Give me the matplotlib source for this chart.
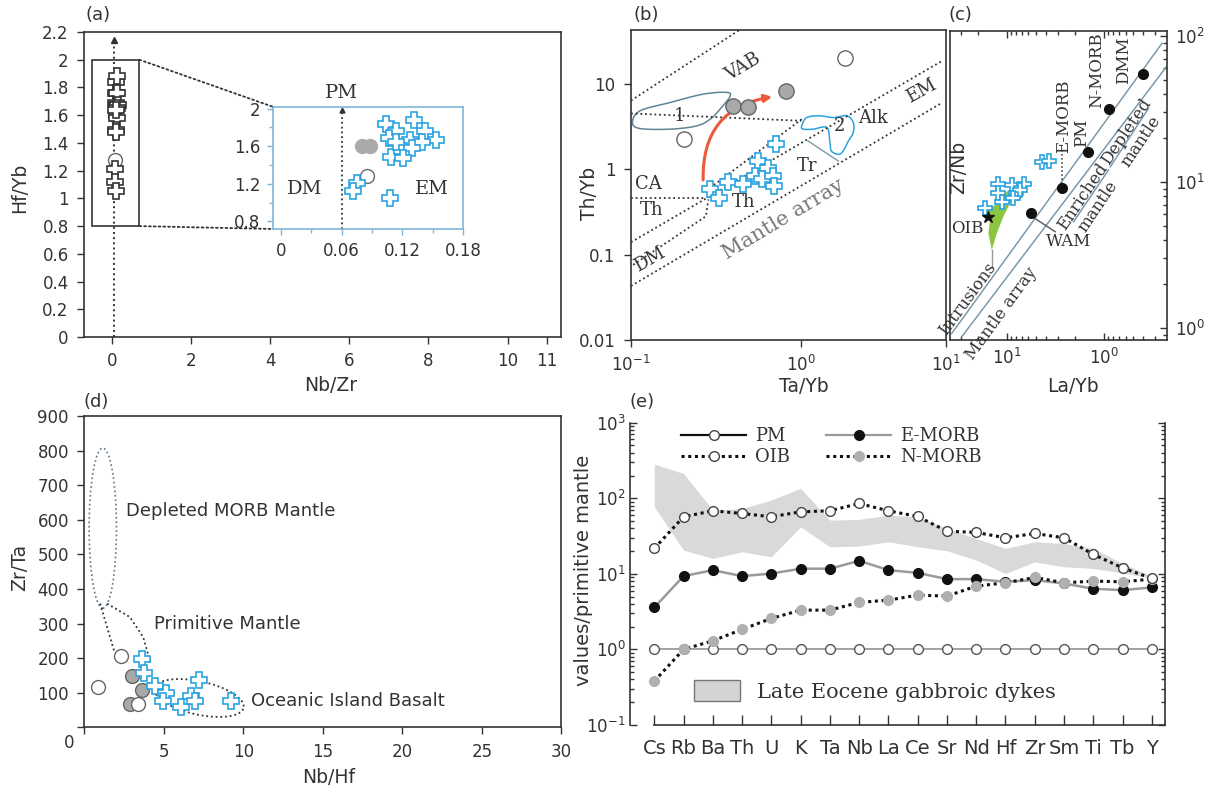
import matplotlib
matplotlib.use('Agg')
import matplotlib.pyplot as plt
from matplotlib.patches import Ellipse, Polygon, Patch, Rectangle, ConnectionPatch, FancyArrowPatch
from matplotlib.lines import Line2D
from matplotlib.ticker import FixedLocator, FixedFormatter, NullLocator, LogLocator
import numpy as np

plt.rcParams['font.family'] = ['DejaVu Sans']
plt.rcParams['mathtext.default'] = 'regular'

DARK = '#333333'
BLUE = '#2aa3e0'
SERIF = 'DejaVu Serif'
W, H = 1211, 792

# ---- (a) Hf/Yb vs Nb/Zr (also used for the inset) ----
a_cross_x = [0.104, 0.131, 0.114, 0.107, 0.127, 0.142, 0.153, 0.139, 0.129, 0.109, 0.121, 0.114, 0.075, 0.071, 0.108]
a_cross_y = [1.84, 1.88, 1.76, 1.69, 1.67, 1.76, 1.67, 1.65, 1.58, 1.49, 1.48, 1.64, 1.21, 1.12, 1.05]
a_grey_x = [0.080, 0.088]
a_grey_y = [1.60, 1.60]
a_open_x = [0.085]
a_open_y = [1.28]

# ---- (b) Th/Yb vs Ta/Yb ----
b_cross_x = [0.292, 0.329, 0.374, 0.454, 0.561, 0.536, 0.643, 0.588, 0.681, 0.693, 0.713]
b_cross_y = [0.582, 0.456, 0.710, 0.667, 1.25, 0.835, 1.05, 0.776, 0.835, 0.637, 1.97]
b_grey_x = [0.400, 0.485, 0.813]
b_grey_y = [5.56, 5.41, 8.36]
b_open_x = [0.205, 1.82]
b_open_y = [2.30, 20.0]
b_arrow_x = [0.266, 0.703]
b_arrow_y = [0.697, 7.16]
b_field1_x = [0.102, 0.113, 0.170, 0.266, 0.365, 0.382, 0.334, 0.292, 0.243, 0.170, 0.113]
b_field1_y = [3.54, 4.85, 6.08, 7.62, 7.98, 7.16, 5.08, 3.87, 3.23, 2.96, 3.01]
b_field2_x = [1.01, 1.08, 1.29, 1.55, 1.86, 2.03, 2.03, 1.90, 1.77, 1.66, 1.51, 1.48, 1.42, 1.18, 1.03]
b_field2_y = [3.23, 4.05, 4.24, 4.05, 4.24, 3.54, 2.70, 2.15, 1.64, 1.50, 1.64, 2.06, 3.09, 2.96, 2.96]

# ---- (c) Zr/Nb vs La/Yb ----
c_ref_names = ['DMM', 'N-MORB', 'PM', 'E-MORB', 'WAM']
c_ref_x = [0.401, 0.883, 1.47, 2.68, 5.63]
c_ref_y = [54.7, 31.6, 16.0, 9.06, 6.11]
c_cross_x = [4.37, 3.67, 12.4, 8.91, 6.60, 8.04, 12.4, 11.1, 16.8, 7.31, 8.57]
c_cross_y = [13.8, 14.0, 9.69, 9.53, 9.64, 8.36, 8.45, 7.33, 6.60, 8.81, 7.73]
c_oib_x = [15.7]
c_oib_y = [5.78]
c_intr_x = [16.8, 14.9, 15.5, 14.3, 12.7, 10.9, 8.91, 9.66, 11.3, 13.2, 16.1]
c_intr_y = [6.26, 5.49, 4.45, 3.42, 4.45, 5.78, 7.53, 8.81, 7.93, 6.96, 6.43]

# ---- (d) Zr/Ta vs Nb/Hf ----
d_cross_x = [3.64, 3.73, 4.43, 5.14, 4.98, 6.10, 6.70, 6.94, 7.22, 9.21]
d_cross_y = [199, 158, 121, 100, 75, 60, 90, 75, 136, 75]
d_grey_x = [2.99, 3.64, 2.87]
d_grey_y = [148, 107, 68]
d_open_x = [2.34, 0.84, 3.40]
d_open_y = [207, 117, 68]

# ---- (e) spider diagram ----
elements = ['Cs', 'Rb', 'Ba', 'Th', 'U', 'K', 'Ta', 'Nb', 'La', 'Ce', 'Sr', 'Nd', 'Hf', 'Zr', 'Sm', 'Ti', 'Tb', 'Y']
pm = [1.0, 1.0, 1.0, 1.0, 1.0, 1.0, 1.0, 1.0, 1.0, 1.0, 1.0, 1.0, 1.0, 1.0, 1.0, 1.0, 1.0, 1.0]
oib = [21.7, 56.9, 68.3, 62.9, 56.9, 66.2, 68.3, 85.3, 68.3, 57.4, 36.7, 35.3, 30.0, 34.2, 30.0, 18.1, 12.0, 8.69]
emorb = [3.59, 9.33, 11.2, 9.33, 10.1, 11.7, 11.7, 14.9, 11.2, 10.3, 8.52, 8.52, 7.85, 8.26, 7.46, 6.35, 6.09, 6.61]
nmorb = [0.381, 1.0, 1.30, 1.84, 2.57, 3.31, 3.31, 4.19, 4.49, 5.23, 5.08, 6.88, 7.62, 8.96, 7.62, 8.01, 7.85, 8.52]
band_hi = [283, 213, 69.7, 73.0, 95.0, 135, 51.4, 52.5, 59.8, 56.9, 39.9, 29.4, 21.7, 26.6, 25.2, 21.7, 13.7, 9.33]
band_lo = [77.1, 20.6, 16.0, 19.6, 16.8, 41.9, 22.8, 23.3, 26.6, 22.8, 20.2, 15.2, 10.1, 14.4, 12.4, 11.8, 10.3, 8.69]


def box(l, t, r, b):
    return [l / W, 1 - b / H, (r - l) / W, (b - t) / H]


def style(ax, size=12, direction='out'):
    for s in ax.spines.values():
        s.set_color(DARK)
        s.set_linewidth(1.2)
    ax.tick_params(which='both', colors=DARK, labelsize=size, direction=direction, width=1)
    ax.tick_params(which='major', length=5, pad=6)
    ax.tick_params(which='minor', length=3)


def cross(ax, x, y, ec=BLUE, ms=11):
    ax.plot(x, y, 'P', ms=ms, mfc='white', mec=ec, mew=1.2, ls='none', zorder=5)


def circles(ax, x, y, face, ms=10):
    ax.plot(x, y, 'o', ms=ms, mfc=face, mec='#666666', mew=1, ls='none', zorder=4)


# smooth closed outline through the traced points (log-log space)
def smooth_loop(xs, ys, n=12):
    lx, ly = np.log10(xs), np.log10(ys)
    k = len(lx)
    out_x, out_y = [], []
    for i in range(k):
        p0, p1, p2, p3 = [(lx[(i + j) % k], ly[(i + j) % k]) for j in (-1, 0, 1, 2)]
        for t in np.linspace(0, 1, n, endpoint=False):
            t2, t3 = t * t, t * t * t
            for c, out in ((0, out_x), (1, out_y)):
                out.append(0.5 * (2 * p1[c] + (-p0[c] + p2[c]) * t + (2 * p0[c] - 5 * p1[c] + 4 * p2[c] - p3[c]) * t2
                                  + (-p0[c] + 3 * p1[c] - 3 * p2[c] + p3[c]) * t3))
    return list(zip(10 ** np.array(out_x), 10 ** np.array(out_y)))


fig = plt.figure(figsize=(W / 100, H / 100), dpi=100)

# panel (a)
ax_a = fig.add_axes(box(84, 32, 561, 337))
style(ax_a)
ax_a.set_xlim(-0.7, 11.35)
ax_a.set_ylim(0, 2.2)
ax_a.set_xticks([0, 2, 4, 6, 8, 10, 11])
yt = [0, 0.2, 0.4, 0.6, 0.8, 1, 1.2, 1.4, 1.6, 1.8, 2, 2.2]
ax_a.set_yticks(yt)
ax_a.set_yticklabels(['%g' % v for v in yt])
ax_a.add_patch(Rectangle((-0.49, 0.8), 1.19, 1.2, fill=False, ec=DARK, lw=1.2))
ax_a.plot([0.06, 0.06], [0, 2.13], ls=':', color=DARK, lw=1.4)
ax_a.plot([0.06], [2.14], '^', ms=4, color=DARK)
cross(ax_a, a_cross_x, a_cross_y, ec=DARK)
circles(ax_a, a_grey_x, a_grey_y, '#aaaaaa')
circles(ax_a, a_open_x, a_open_y, 'white')
ax_a.set_xlabel('Nb/Zr', fontsize=13.5, color=DARK)
ax_a.xaxis.set_label_coords(0.518, -0.128)
ax_a.set_ylabel('Hf/Yb', fontsize=13.5, color=DARK)
ax_a.yaxis.set_label_coords(-0.115, 0.49)

# inset of (a)
ax_in = fig.add_axes(box(272.7, 106.7, 463.3, 229))
INB = '#7fb6d8'
for s in ax_in.spines.values():
    s.set_color(INB)
    s.set_linewidth(1.2)
ax_in.tick_params(which='both', colors=INB, labelcolor=DARK, labelsize=12, direction='out', width=1)
ax_in.tick_params(which='major', length=4, pad=5)
ax_in.tick_params(which='minor', length=3)
ax_in.set_xlim(-0.008, 0.18)
ax_in.set_ylim(0.72, 2.02)
ax_in.set_xticks([0, 0.06, 0.12, 0.18])
ax_in.set_xticklabels(['0', '0.06', '0.12', '0.18'])
ax_in.set_xticks([0.03, 0.09, 0.15], minor=True)
ax_in.set_yticks([0.8, 1.2, 1.6, 2.0])
ax_in.set_yticklabels(['0.8', '1.2', '1.6', '2'])
ax_in.set_yticks([1.0, 1.4, 1.8], minor=True)
ax_in.plot([0.06, 0.06], [0.72, 1.98], ls=':', color=DARK, lw=1.3)
ax_in.plot([0.06], [1.99], '^', ms=3.5, color=DARK)
cross(ax_in, a_cross_x, a_cross_y)
ax_in.plot(a_grey_x, a_grey_y, 'o', ms=10, mfc='#aaaaaa', mec='#aaaaaa', ls='none', zorder=4)
circles(ax_in, a_open_x, a_open_y, 'white')
ax_in.text(0.06, 2.17, 'PM', ha='center', va='center', fontsize=14, family=SERIF, color=DARK, clip_on=False)
ax_in.text(0.024, 1.14, 'DM', ha='center', va='center', fontsize=14, family=SERIF, color=DARK)
ax_in.text(0.149, 1.14, 'EM', ha='center', va='center', fontsize=14, family=SERIF, color=DARK)
for ya, yb in [(2.0, 1), (0.8, 0)]:
    con = ConnectionPatch(xyA=(0.70, ya), coordsA=ax_a.transData, xyB=(0, yb), coordsB=ax_in.transAxes,
                          ls=':', color=DARK, lw=1.3)
    fig.add_artist(con)

# panel (b)
ax_b = fig.add_axes(box(631, 30, 945.6, 340))
style(ax_b)
ax_b.set_xscale('log')
ax_b.set_yscale('log')
ax_b.set_xlim(0.1, 7.09)
ax_b.set_ylim(0.01, 43)
ax_b.xaxis.set_major_locator(FixedLocator([0.1, 1, 7.09]))
ax_b.xaxis.set_major_formatter(FixedFormatter(['$10^{-1}$', '$10^{0}$', '$10^{1}$']))
ax_b.xaxis.set_minor_locator(NullLocator())
ax_b.yaxis.set_major_locator(FixedLocator([0.01, 0.1, 1, 10]))
ax_b.yaxis.set_major_formatter(FixedFormatter(['0.01', '0.1', '1', '10']))
ax_b.yaxis.set_minor_locator(NullLocator())
dot = dict(ls=(0, (1, 1.6)), color=DARK, lw=1.3)
ax_b.plot([0.1, 0.45], [6.4, 45], **dot)
ax_b.plot([0.1, 6.8], [0.14, 18.8], **dot)
ax_b.plot([0.1, 6.8], [0.043, 6.08], **dot)
ax_b.plot([0.103, 0.276, 0.285], [0.076, 0.282, 0.444], **dot)
ax_b.plot([0.292, 1.01], [0.608, 3.87], **dot)
ax_b.plot([0.1, 0.276], [0.456, 0.456], **dot)
ax_b.plot([0.1, 1.0], [4.52, 3.71], **dot)
ax_b.plot([1.10, 1.66], [2.15, 1.25], color='#7a9aaa', lw=1)
ax_b.add_patch(Polygon(smooth_loop(b_field1_x, b_field1_y), closed=True, fill=False, ec='#5f8595', lw=1.1))
ax_b.add_patch(Polygon(smooth_loop(b_field2_x, b_field2_y), closed=True, fill=False, ec=BLUE, lw=1.1))
arrow = FancyArrowPatch((b_arrow_x[0], b_arrow_y[0]), (b_arrow_x[1], b_arrow_y[1]),
                        connectionstyle='arc3,rad=-0.45', arrowstyle='-|>', mutation_scale=11,
                        color='#ec5a3c', lw=2.2, zorder=3)
ax_b.add_patch(arrow)
cross(ax_b, b_cross_x, b_cross_y)
circles(ax_b, b_grey_x, b_grey_y, '#a9a9a9', ms=11)
circles(ax_b, b_open_x, b_open_y, 'white', ms=11)
tk = dict(family=SERIF, color=DARK, ha='center', va='center', fontsize=13)
ax_b.text(0.458, 15.7, 'VAB', rotation=31, **tk)
ax_b.text(0.192, 4.17, '1', **tk)
ax_b.text(1.69, 3.23, '2', **tk)
ax_b.text(2.66, 4.05, 'Alk', **tk)
ax_b.text(5.13, 8.36, 'EM', rotation=29, **tk)
ax_b.text(1.08, 1.09, 'Tr', **tk)
ax_b.text(0.126, 0.667, 'CA', **tk)
ax_b.text(0.132, 0.333, 'Th', **tk)
ax_b.text(0.458, 0.413, 'Th', **tk)
ax_b.text(0.129, 0.089, 'DM', rotation=30, **tk)
ax_b.text(0.787, 0.258, 'Mantle array', rotation=31, family=SERIF, color='#777777', ha='center', va='center', fontsize=15)
ax_b.set_xlabel('Ta/Yb', fontsize=13.5, color=DARK)
ax_b.xaxis.set_label_coords(0.548, -0.12)
ax_b.set_ylabel('Th/Yb', fontsize=13.5, color=DARK)
ax_b.yaxis.set_label_coords(-0.102, 0.474)

# panel (c)
ax_c = fig.add_axes(box(950, 31, 1167, 340))
style(ax_c, direction='in')
ax_c.set_xscale('log')
ax_c.set_yscale('log')
ax_c.set_xlim(38.5, 0.225)
ax_c.set_ylim(0.83, 108)
ax_c.yaxis.tick_right()
ax_c.tick_params(which='both', top=True, bottom=True, right=True, left=False, labelright=True, labelleft=False)
ax_c.xaxis.set_major_locator(FixedLocator([10, 1]))
ax_c.yaxis.set_major_locator(FixedLocator([1, 10, 100]))
ax_c.xaxis.set_minor_locator(LogLocator(subs=np.arange(2, 10)))
ax_c.yaxis.set_minor_locator(LogLocator(subs=np.arange(2, 10)))
LC = '#7a9aaa'
ax_c.plot([37.0, 0.253], [0.919, 89.1], color=LC, lw=1.1)
ax_c.plot([29.2, 0.208], [0.872, 66.7], color=LC, lw=1.1)
ax_c.plot([2.06, 0.899], [5.35, 12.1], color=LC, lw=1.1)
ax_c.plot([0.863, 0.348], [12.7, 32.0], color=LC, lw=1.1)
ax_c.plot([2.68, 2.68], [9.06, 17.0], ls=':', color=DARK, lw=1.1)
ax_c.plot([5.46, 3.18], [5.78, 4.57], color='#555555', lw=1)
ax_c.plot([14.3, 14.3], [3.42, 2.63], color='#999999', lw=1)
ax_c.add_patch(Polygon(list(zip(c_intr_x, c_intr_y)), closed=True, fc='#8cc63f', ec='none', zorder=2))
ax_c.plot(c_ref_x, c_ref_y, 'o', ms=7, color='#111111', ls='none', zorder=4)
cross(ax_c, c_cross_x, c_cross_y, ms=10)
ax_c.plot(c_oib_x, c_oib_y, '*', ms=9, color='#111111', ls='none', zorder=6)
tc = dict(family=SERIF, color=DARK, fontsize=12)
ax_c.text(0.63, 68.5, 'DMM', rotation=90, ha='center', va='center', **tc)
ax_c.text(1.18, 58.5, 'N-MORB', rotation=90, ha='center', va='center', **tc)
ax_c.text(2.61, 28.0, 'E-MORB', rotation=90, ha='center', va='center', **tc)
ax_c.text(1.69, 21.6, 'PM', rotation=90, ha='center', va='center', **tc)
ax_c.text(1.39, 7.33, 'Enriched\nmantle', rotation=56, ha='center', va='center', linespacing=1.1, **tc)
ax_c.text(0.497, 20.4, 'Depleted\nmantle', rotation=56, ha='center', va='center', linespacing=1.1, **tc)
ax_c.text(2.29, 3.90, 'WAM', ha='center', va='center', **tc)
ax_c.text(25.3, 4.82, 'OIB', ha='center', va='center', **tc)
ax_c.text(25.5, 1.58, 'Intrusions', rotation=54, ha='center', va='center', **tc)
ax_c.text(11.3, 1.26, 'Mantle array', rotation=54, ha='center', va='center', **tc)
ax_c.text(0.038, 0.56, 'Zr/Nb', rotation=90, transform=ax_c.transAxes, ha='center', va='center',
          fontsize=13.5, color=DARK)
ax_c.set_xlabel('La/Yb', fontsize=13.5, color=DARK)
ax_c.xaxis.set_label_coords(0.568, -0.12)

# panel (d)
ax_d = fig.add_axes(box(84.2, 416.1, 561.4, 727.4))
style(ax_d)
ax_d.set_xlim(0, 30)
ax_d.set_ylim(0, 900)
ax_d.set_xticks([0, 5, 10, 15, 20, 25, 30])
ax_d.set_xticklabels(['', '5', '10', '15', '20', '25', '30'])
ax_d.set_yticks([0, 100, 200, 300, 400, 500, 600, 700, 800, 900])
ax_d.set_yticklabels(['', '100', '200', '300', '400', '500', '600', '700', '800', '900'])
ax_d.text(-0.032, -0.051, '0', transform=ax_d.transAxes, ha='center', va='center', fontsize=12, color=DARK)
ax_d.add_patch(Ellipse((1.17, 576), 1.72, 463, fill=False, ls=':', ec='#5f7585', lw=1.2))
ax_d.plot([1.00, 1.91], [358, 217], ls=(0, (1, 1.6)), color=DARK, lw=1.3)
ax_d.plot([1.44, 2.87, 3.71, 4.19], [358, 319, 261, 183], ls=(0, (1, 1.6)), color=DARK, lw=1.3)
t = np.linspace(0, 2 * np.pi, 100)
ex = 7.22 + 2.81 * np.cos(t)
ey = 85 + 49 * np.sin(t) - 8.7 * (ex - 7.22)
ax_d.plot(ex, ey, ls=(0, (1, 1.6)), color=DARK, lw=1.3)
circles(ax_d, d_grey_x, d_grey_y, '#a9a9a9', ms=10)
circles(ax_d, d_open_x, d_open_y, 'white', ms=10)
cross(ax_d, d_cross_x, d_cross_y)
td = dict(color=DARK, fontsize=13, ha='left', va='center')
ax_d.text(2.6, 627, 'Depleted MORB Mantle', **td)
ax_d.text(4.4, 300, 'Primitive Mantle', **td)
ax_d.text(10.5, 77, 'Oceanic Island Basalt', **td)
ax_d.set_xlabel('Nb/Hf', fontsize=13.5, color=DARK)
ax_d.xaxis.set_label_coords(0.513, -0.13)
ax_d.set_ylabel('Zr/Ta', fontsize=13.5, color=DARK)
ax_d.yaxis.set_label_coords(-0.116, 0.513)

# panel (e)
ax_e = fig.add_axes(box(630, 422.7, 1165, 725))
style(ax_e, size=14, direction='in')
ax_e.set_yscale('log')
ax_e.set_xlim(-0.83, 17.45)
ax_e.set_ylim(0.1, 1000)
ax_e.spines['top'].set_visible(False)
ax_e.spines['bottom'].set_bounds(0, 17.45)
ax_e.tick_params(which='both', left=True, right=True, bottom=True, top=False)
ax_e.tick_params(axis='x', length=7, pad=10)
ax_e.tick_params(axis='y', labelsize=12, pad=3)
ax_e.set_xticks(range(len(elements)))
ax_e.set_xticklabels(elements)
ax_e.yaxis.set_major_locator(FixedLocator([0.1, 1, 10, 100, 1000]))
ax_e.yaxis.set_minor_locator(LogLocator(subs=np.arange(2, 10)))
xs = np.arange(len(elements))
ax_e.fill_between(xs, band_lo, band_hi, color='#d9d9d9', lw=0, zorder=1)
ax_e.plot(xs, pm, '-o', color='#9a9a9a', lw=1.3, ms=7, mfc='white', mec='#555555', zorder=3)
ax_e.plot(xs, emorb, '-o', color='#9a9a9a', lw=1.8, ms=7, mfc='#111111', mec='#111111', zorder=3)
ax_e.plot(xs, nmorb, 'o', ls=(0, (1, 1.2)), color='#111111', lw=2.2, ms=7, mfc='#b0b0b0', mec='#b0b0b0', zorder=4)
ax_e.plot(xs, oib, 'o', ls=(0, (1, 1.2)), color='#111111', lw=2.2, ms=7, mfc='white', mec='#444444', zorder=4)
handles = [
    Line2D([], [], color='#111111', lw=1.6, marker='o', ms=7, mfc='white', mec='#444444'),
    Line2D([], [], color='#111111', lw=2.2, ls=(0, (1, 1.2)), marker='o', ms=7, mfc='white', mec='#444444'),
    Line2D([], [], color='#9a9a9a', lw=1.6, marker='o', ms=7, mfc='#111111', mec='#111111'),
    Line2D([], [], color='#111111', lw=2.2, ls=(0, (1, 1.2)), marker='o', ms=7, mfc='#b0b0b0', mec='#b0b0b0'),
]
leg = ax_e.legend(handles, ['PM', 'OIB', 'E-MORB', 'N-MORB'], ncol=2, loc='upper left',
                  bbox_to_anchor=(0.065, 1.04), frameon=False, handlelength=3.6, handletextpad=0.5,
                  columnspacing=2.0, labelspacing=0.2, prop={'family': SERIF, 'size': 13})
for txt in leg.get_texts():
    txt.set_color(DARK)
ax_e.add_artist(leg)
leg2 = ax_e.legend([Patch(fc='#d4d4d4', ec='#777777', lw=1)], ['Late Eocene gabbroic dykes'],
                   loc='lower left', bbox_to_anchor=(0.085, 0.015), frameon=False, handlelength=2.2,
                   handleheight=1.2, prop={'family': SERIF, 'size': 15})
for txt in leg2.get_texts():
    txt.set_color(DARK)
ax_e.set_ylabel('values/primitive mantle', fontsize=14, color=DARK)
ax_e.yaxis.set_label_coords(-0.069, 0.51)

for lab, x, y in [('(a)', 97.6, 15), ('(b)', 646.7, 15), ('(c)', 960, 15), ('(d)', 95.7, 401.7), ('(e)', 642, 401.7)]:
    fig.text(x / W, 1 - y / H, lab, ha='center', va='center', fontsize=13, color=DARK)

fig.savefig('out.png', dpi=100)
